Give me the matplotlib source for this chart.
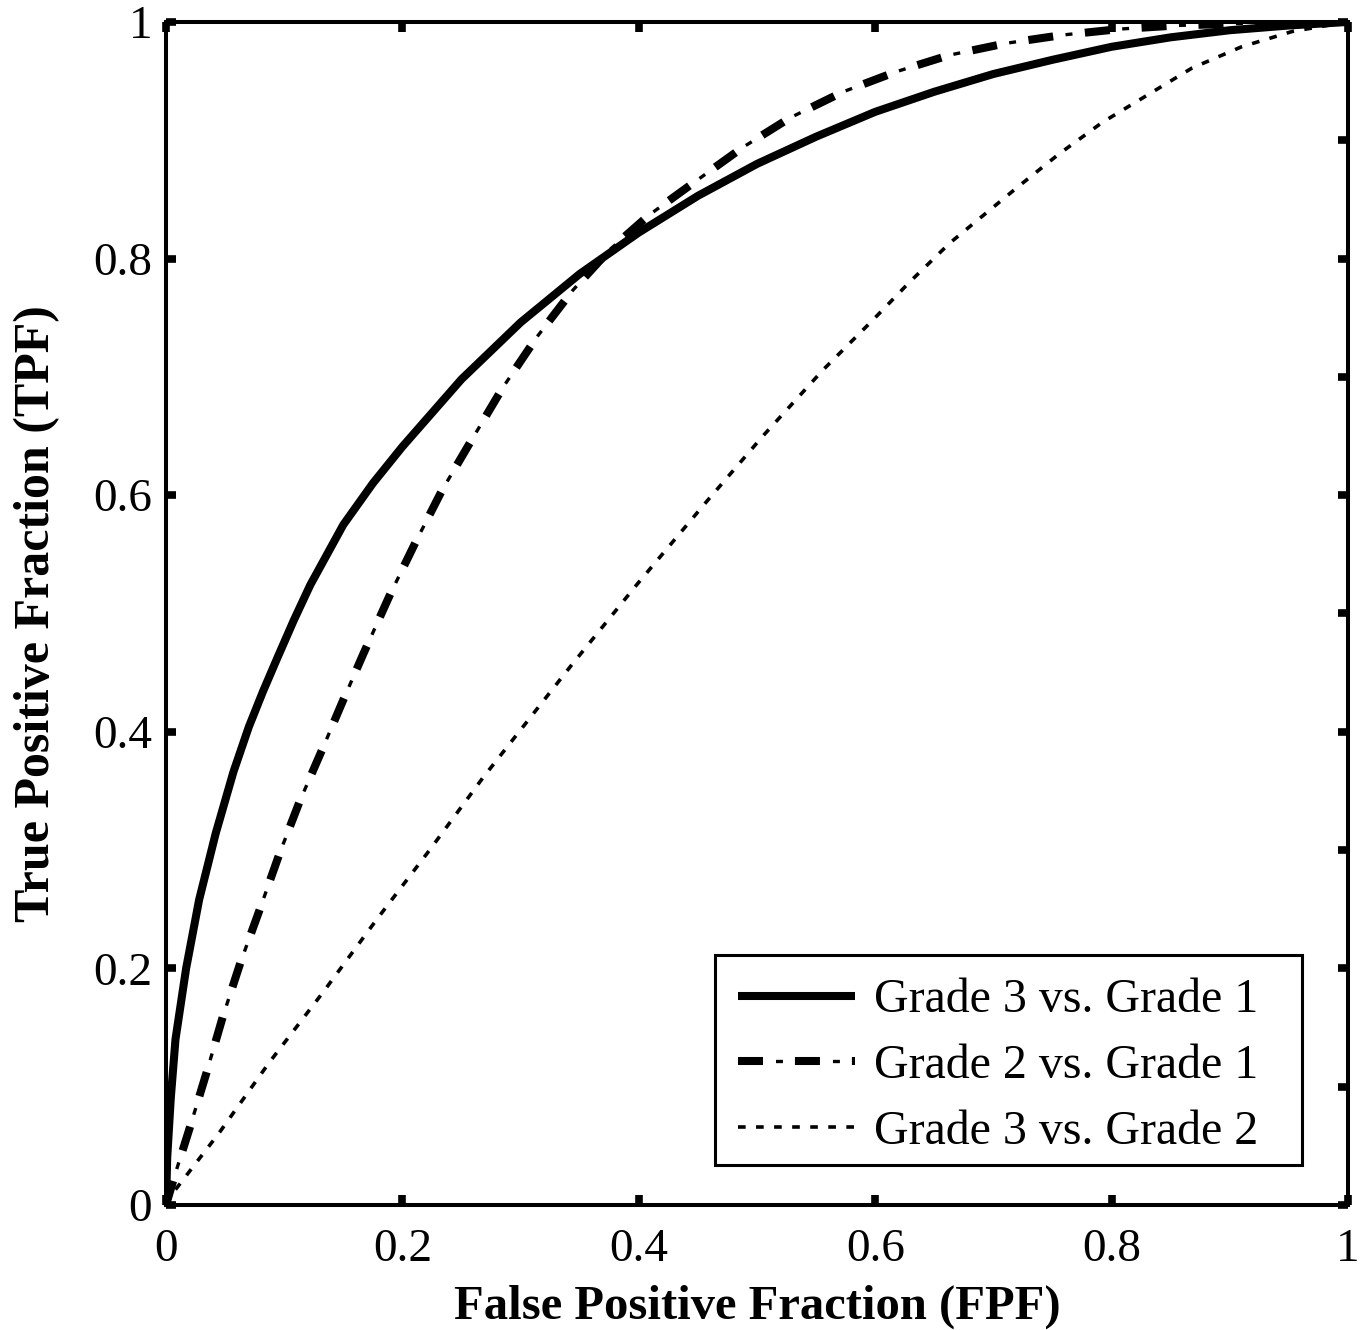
import matplotlib
matplotlib.use("Agg")
import matplotlib.pyplot as plt
from matplotlib.legend_handler import HandlerTuple
from matplotlib.patches import Rectangle

# ---- data ----
fpf_g3g1 = [0, 0.001, 0.004, 0.008, 0.017, 0.028, 0.042, 0.057, 0.070, 0.082, 0.094,
            0.108, 0.122, 0.150, 0.175, 0.200, 0.250, 0.300, 0.350, 0.400, 0.450,
            0.500, 0.550, 0.600, 0.650, 0.700, 0.750, 0.800, 0.850, 0.900, 0.950, 1.0]
tpf_g3g1 = [0, 0.040, 0.090, 0.140, 0.200, 0.258, 0.314, 0.366, 0.404, 0.434, 0.462,
            0.494, 0.524, 0.575, 0.610, 0.641, 0.698, 0.746, 0.787, 0.822, 0.853,
            0.880, 0.903, 0.924, 0.941, 0.956, 0.968, 0.979, 0.987, 0.993, 0.997, 1.0]

fpf_g2g1 = [0, 0.008, 0.020, 0.034, 0.048, 0.063, 0.079, 0.096, 0.113, 0.133, 0.150,
            0.167, 0.190, 0.212, 0.234, 0.257, 0.285, 0.314, 0.344, 0.376, 0.409,
            0.449, 0.488, 0.528, 0.573, 0.618, 0.663, 0.711, 0.759, 0.807, 0.855,
            0.920, 1.0]
tpf_g2g1 = [0, 0.027, 0.065, 0.111, 0.159, 0.205, 0.249, 0.297, 0.341, 0.387, 0.427,
            0.466, 0.517, 0.562, 0.605, 0.644, 0.691, 0.734, 0.773, 0.808, 0.837,
            0.866, 0.894, 0.919, 0.941, 0.958, 0.972, 0.982, 0.989, 0.994, 0.997,
            0.999, 1.0]

fpf_g3g2 = [0, 0.008, 0.045, 0.087, 0.133, 0.178, 0.223, 0.268, 0.342, 0.398, 0.456,
            0.505, 0.556, 0.598, 0.629, 0.663, 0.686, 0.720, 0.755, 0.792, 0.830,
            0.868, 0.910, 0.953, 1.0]
tpf_g3g2 = [0, 0.013, 0.061, 0.120, 0.180, 0.241, 0.300, 0.361, 0.455, 0.524, 0.593,
            0.650, 0.706, 0.748, 0.780, 0.813, 0.832, 0.860, 0.888, 0.915, 0.938,
            0.961, 0.979, 0.992, 1.0]

labels = ["Grade 3 vs. Grade 1", "Grade 2 vs. Grade 1", "Grade 3 vs. Grade 2"]
major_ticks = [0, 0.2, 0.4, 0.6, 0.8, 1]
tick_labels = ["0", "0.2", "0.4", "0.6", "0.8", "1"]
minor_ticks = [0.1, 0.3, 0.5, 0.7, 0.9]

plt.rcParams['font.family'] = ['Liberation Serif', 'DejaVu Serif']
plt.rcParams['lines.scale_dashes'] = False

fig = plt.figure(figsize=(13.71, 13.30), dpi=100)
ax = fig.add_axes([0.1211, 0.0940, 0.8621, 0.8895])

l1, = ax.plot(fpf_g3g1, tpf_g3g1, color='black', lw=5.8, solid_capstyle='butt',
              solid_joinstyle='round')
# dash-dot: thick dashes + thin dots
l2a, = ax.plot(fpf_g2g1, tpf_g2g1, color='black', lw=5.8, dash_capstyle='butt',
               linestyle=(0, (18, 23)))
l2b, = ax.plot(fpf_g2g1, tpf_g2g1, color='black', lw=2.4, dash_capstyle='butt',
               linestyle=(14, (5, 36)))
l3, = ax.plot(fpf_g3g2, tpf_g3g2, color='black', lw=2.6, dash_capstyle='butt',
              linestyle=(0, (5.5, 7.5)))

ax.set_xlim(0, 1)
ax.set_ylim(0, 1)
ax.set_xticks(major_ticks)
ax.set_xticklabels(tick_labels)
ax.set_yticks(major_ticks)
ax.set_yticklabels(tick_labels)
ax.set_yticks(minor_ticks, minor=True)

ax.tick_params(which='major', direction='in', length=7, width=5.5, top=True, right=True,
               labelsize=34, pad=17)
ax.tick_params(axis='y', which='major', pad=10)
ax.tick_params(axis='y', which='minor', direction='in', length=7, width=5.5,
               left=False, right=True)
ax.tick_params(axis='x', which='minor', bottom=False, top=False)

for s in ax.spines.values():
    s.set_linewidth(2.9)

ax.set_xlabel("False Positive Fraction (FPF)", fontsize=35, fontweight='bold', labelpad=10)
ax.set_ylabel("True Positive Fraction (TPF)", fontsize=36, fontweight='bold', labelpad=24)

# legend frame drawn as a rectangle so that padding matches the reference
ax.add_patch(Rectangle((0.4645, 0.0338), 0.4965, 0.1775, transform=ax.transAxes,
                       facecolor='white', edgecolor='black', lw=2.2, zorder=4))
leg = ax.legend([l1, (l2a, l2b), l3], labels,
                handler_map={tuple: HandlerTuple(ndivide=1)},
                loc='center left', bbox_to_anchor=(0.4839, 0.1175), borderaxespad=0,
                fontsize=34.5, frameon=False,
                handlelength=2.45, handletextpad=0.38, labelspacing=0.45,
                borderpad=0)
leg.set_zorder(5)

fig.savefig("out.png", dpi=100)
